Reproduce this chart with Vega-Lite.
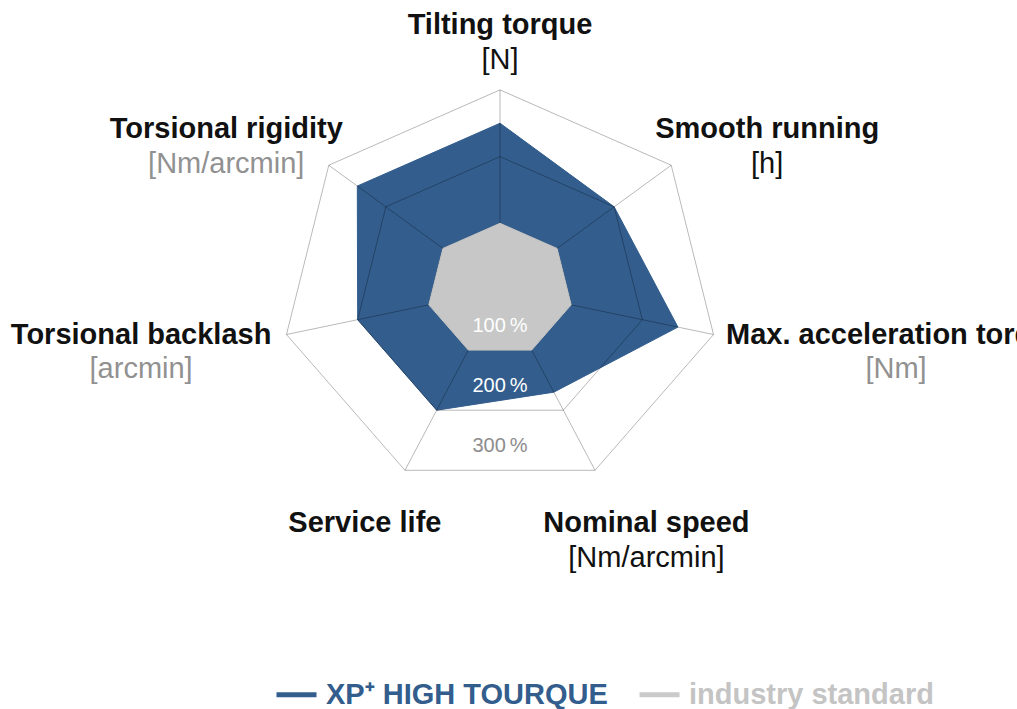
{
  "$schema": "https://vega.github.io/schema/vega-lite/v6.json",
  "width": 1017,
  "height": 709,
  "autosize": "none",
  "padding": 0,
  "background": "white",
  "config": {"view": {"stroke": null}, "font": "Liberation Sans"},
  "datasets": {
    "axes": [
      {"idx": 0, "axis": "Tilting torque", "unit": "[N]"},
      {"idx": 1, "axis": "Smooth running", "unit": "[h]"},
      {"idx": 2, "axis": "Max. acceleration torque", "unit": "[Nm]"},
      {"idx": 3, "axis": "Nominal speed", "unit": "[Nm/arcmin]"},
      {"idx": 4, "axis": "Service life", "unit": ""},
      {"idx": 5, "axis": "Torsional backlash", "unit": "[arcmin]"},
      {"idx": 6, "axis": "Torsional rigidity", "unit": "[Nm/arcmin]"}
    ],
    "scores": [
      {"series": "XP⁺ HIGH TOURQUE", "axis": "Tilting torque", "value": 250},
      {"series": "XP⁺ HIGH TOURQUE", "axis": "Smooth running", "value": 200},
      {"series": "XP⁺ HIGH TOURQUE", "axis": "Max. acceleration torque", "value": 250},
      {"series": "XP⁺ HIGH TOURQUE", "axis": "Nominal speed", "value": 170},
      {"series": "XP⁺ HIGH TOURQUE", "axis": "Service life", "value": 200},
      {"series": "XP⁺ HIGH TOURQUE", "axis": "Torsional backlash", "value": 200},
      {"series": "XP⁺ HIGH TOURQUE", "axis": "Torsional rigidity", "value": 250},
      {"series": "industry standard", "axis": "Tilting torque", "value": 100},
      {"series": "industry standard", "axis": "Smooth running", "value": 100},
      {"series": "industry standard", "axis": "Max. acceleration torque", "value": 100},
      {"series": "industry standard", "axis": "Nominal speed", "value": 100},
      {"series": "industry standard", "axis": "Service life", "value": 100},
      {"series": "industry standard", "axis": "Torsional backlash", "value": 100},
      {"series": "industry standard", "axis": "Torsional rigidity", "value": 100}
    ],
    "grid": [
      {"ring": 100, "idx": 0}, {"ring": 100, "idx": 1}, {"ring": 100, "idx": 2}, {"ring": 100, "idx": 3}, {"ring": 100, "idx": 4}, {"ring": 100, "idx": 5}, {"ring": 100, "idx": 6},
      {"ring": 200, "idx": 0}, {"ring": 200, "idx": 1}, {"ring": 200, "idx": 2}, {"ring": 200, "idx": 3}, {"ring": 200, "idx": 4}, {"ring": 200, "idx": 5}, {"ring": 200, "idx": 6},
      {"ring": 300, "idx": 0}, {"ring": 300, "idx": 1}, {"ring": 300, "idx": 2}, {"ring": 300, "idx": 3}, {"ring": 300, "idx": 4}, {"ring": 300, "idx": 5}, {"ring": 300, "idx": 6}
    ],
    "rings": [{"ring": 100}, {"ring": 200}, {"ring": 300}]
  },
  "encoding": {
    "x": {"field": "px", "type": "quantitative", "scale": {"domain": [-500, 517], "nice": false, "zero": false}, "axis": null},
    "y": {"field": "py", "type": "quantitative", "scale": {"domain": [-419, 290], "nice": false, "zero": false}, "axis": null}
  },
  "layer": [
    {
      "data": {"name": "scores"},
      "transform": [
        {"filter": "datum.series === 'XP⁺ HIGH TOURQUE'"},
        {"lookup": "axis", "from": {"data": {"name": "axes"}, "key": "axis", "fields": ["idx"]}},
        {"calculate": "datum.idx * 2 * PI / 7", "as": "ang"},
        {"calculate": "datum.value * 0.73 * sin(datum.ang)", "as": "px"},
        {"calculate": "datum.value * 0.667 * cos(datum.ang)", "as": "py"}
      ],
      "mark": {"type": "line", "interpolate": "linear-closed", "fill": "#325d8d", "strokeWidth": 1},
      "encoding": {
        "order": {"field": "idx", "type": "quantitative"},
        "color": {
          "field": "series", "type": "nominal",
          "scale": {"domain": ["XP⁺ HIGH TOURQUE", "industry standard"], "range": ["#325d8d", "#c9cac9"]},
          "legend": {
            "orient": "none", "legendX": 274, "legendY": 672, "direction": "horizontal", "title": null,
            "symbolType": "stroke", "symbolSize": 1600, "symbolStrokeWidth": 5,
            "labelFont": "Liberation Sans", "labelFontSize": 29, "labelFontWeight": "bold",
            "labelColor": {"expr": "datum.value === 'industry standard' ? '#c4c4c4' : '#325d8d'"},
            "labelOffset": 7, "columnPadding": 21, "padding": 0, "labelLimit": 500
          }
        }
      }
    },
    {
      "data": {"name": "grid"},
      "transform": [
        {"calculate": "datum.idx * 2 * PI / 7", "as": "ang"},
        {"calculate": "datum.ring * 0.73 * sin(datum.ang)", "as": "px"},
        {"calculate": "datum.ring * 0.667 * cos(datum.ang)", "as": "py"}
      ],
      "mark": {"type": "line", "interpolate": "linear-closed", "stroke": "#000", "strokeOpacity": 0.28, "strokeWidth": 1},
      "encoding": {
        "order": {"field": "idx", "type": "quantitative"},
        "detail": {"field": "ring", "type": "nominal"}
      }
    },
    {
      "data": {"name": "axes"},
      "transform": [
        {"calculate": "datum.idx * 2 * PI / 7", "as": "ang"},
        {"calculate": "300 * 0.73 * sin(datum.ang)", "as": "px"},
        {"calculate": "300 * 0.667 * cos(datum.ang)", "as": "py"}
      ],
      "mark": {"type": "rule", "stroke": "#000", "strokeOpacity": 0.28, "strokeWidth": 1},
      "encoding": {
        "x2": {"datum": 0},
        "y2": {"datum": 0}
      }
    },
    {
      "data": {"name": "scores"},
      "transform": [
        {"filter": "datum.series === 'industry standard'"},
        {"lookup": "axis", "from": {"data": {"name": "axes"}, "key": "axis", "fields": ["idx"]}},
        {"calculate": "datum.idx * 2 * PI / 7", "as": "ang"},
        {"calculate": "datum.value * 0.73 * sin(datum.ang)", "as": "px"},
        {"calculate": "datum.value * 0.667 * cos(datum.ang)", "as": "py"}
      ],
      "mark": {"type": "line", "interpolate": "linear-closed", "fill": "#c6c7c6", "stroke": "#c6c7c6", "strokeWidth": 1},
      "encoding": {
        "order": {"field": "idx", "type": "quantitative"},
        "color": {"field": "series", "type": "nominal"}
      }
    },
    {
      "data": {"name": "rings"},
      "transform": [
        {"calculate": "0", "as": "px"},
        {"calculate": "-datum.ring * 0.667 * cos(PI / 7) + 24", "as": "py"},
        {"calculate": "datum.ring + '\u2009%'", "as": "lbl"}
      ],
      "mark": {"type": "text", "align": "center", "baseline": "middle", "fontSize": 20, "font": "Liberation Sans"},
      "encoding": {
        "text": {"field": "lbl"},
        "color": {"condition": {"test": "datum.ring < 300", "value": "#ffffff"}, "value": "#8c8c8c"}
      }
    },
    {
      "data": {"name": "axes"},
      "transform": [
        {"calculate": "datum.idx * 2 * PI / 7", "as": "ang"},
        {"calculate": "sin(datum.ang)", "as": "s"},
        {"calculate": "cos(datum.ang)", "as": "c"},
        {"calculate": "length(datum.axis) - length(replace(datum.axis, /[iltfrjI. ]/g, ''))", "as": "nNarrow"},
        {"calculate": "length(datum.axis) - length(replace(datum.axis, /[mwMW]/g, ''))", "as": "nWide"},
        {"calculate": "29 * (0.29 * datum.nNarrow + 0.87 * datum.nWide + 0.6 * (length(datum.axis) - datum.nNarrow - datum.nWide)) / 2", "as": "hw"},
        {"calculate": "219 * datum.s + datum.s * (datum.hw + 15)", "as": "px"},
        {"calculate": "200 * datum.c + (datum.c > 0.9 ? 65 : datum.c > 0.3 ? 36 : datum.c > -0.5 ? 0 : -53)", "as": "py"}
      ],
      "mark": {"type": "text", "align": "center", "baseline": "middle", "fontSize": 29, "fontWeight": "bold", "font": "Liberation Sans", "color": "#111111"},
      "encoding": {"text": {"field": "axis"}}
    },
    {
      "data": {"name": "axes"},
      "transform": [
        {"filter": "datum.unit !== ''"},
        {"calculate": "datum.idx * 2 * PI / 7", "as": "ang"},
        {"calculate": "sin(datum.ang)", "as": "s"},
        {"calculate": "cos(datum.ang)", "as": "c"},
        {"calculate": "length(datum.axis) - length(replace(datum.axis, /[iltfrjI. ]/g, ''))", "as": "nNarrow"},
        {"calculate": "length(datum.axis) - length(replace(datum.axis, /[mwMW]/g, ''))", "as": "nWide"},
        {"calculate": "29 * (0.29 * datum.nNarrow + 0.87 * datum.nWide + 0.6 * (length(datum.axis) - datum.nNarrow - datum.nWide)) / 2", "as": "hw"},
        {"calculate": "219 * datum.s + datum.s * (datum.hw + 15)", "as": "px"},
        {"calculate": "200 * datum.c + (datum.c > 0.9 ? 65 : datum.c > 0.3 ? 36 : datum.c > -0.5 ? 0 : -53) - 34.5", "as": "py"}
      ],
      "mark": {"type": "text", "align": "center", "baseline": "middle", "fontSize": 29, "font": "Liberation Sans"},
      "encoding": {
        "text": {"field": "unit"},
        "color": {"condition": {"test": "indexof(['Max. acceleration torque', 'Torsional backlash', 'Torsional rigidity'], datum.axis) >= 0", "value": "#919191"}, "value": "#111111"}
      }
    }
  ]
}
